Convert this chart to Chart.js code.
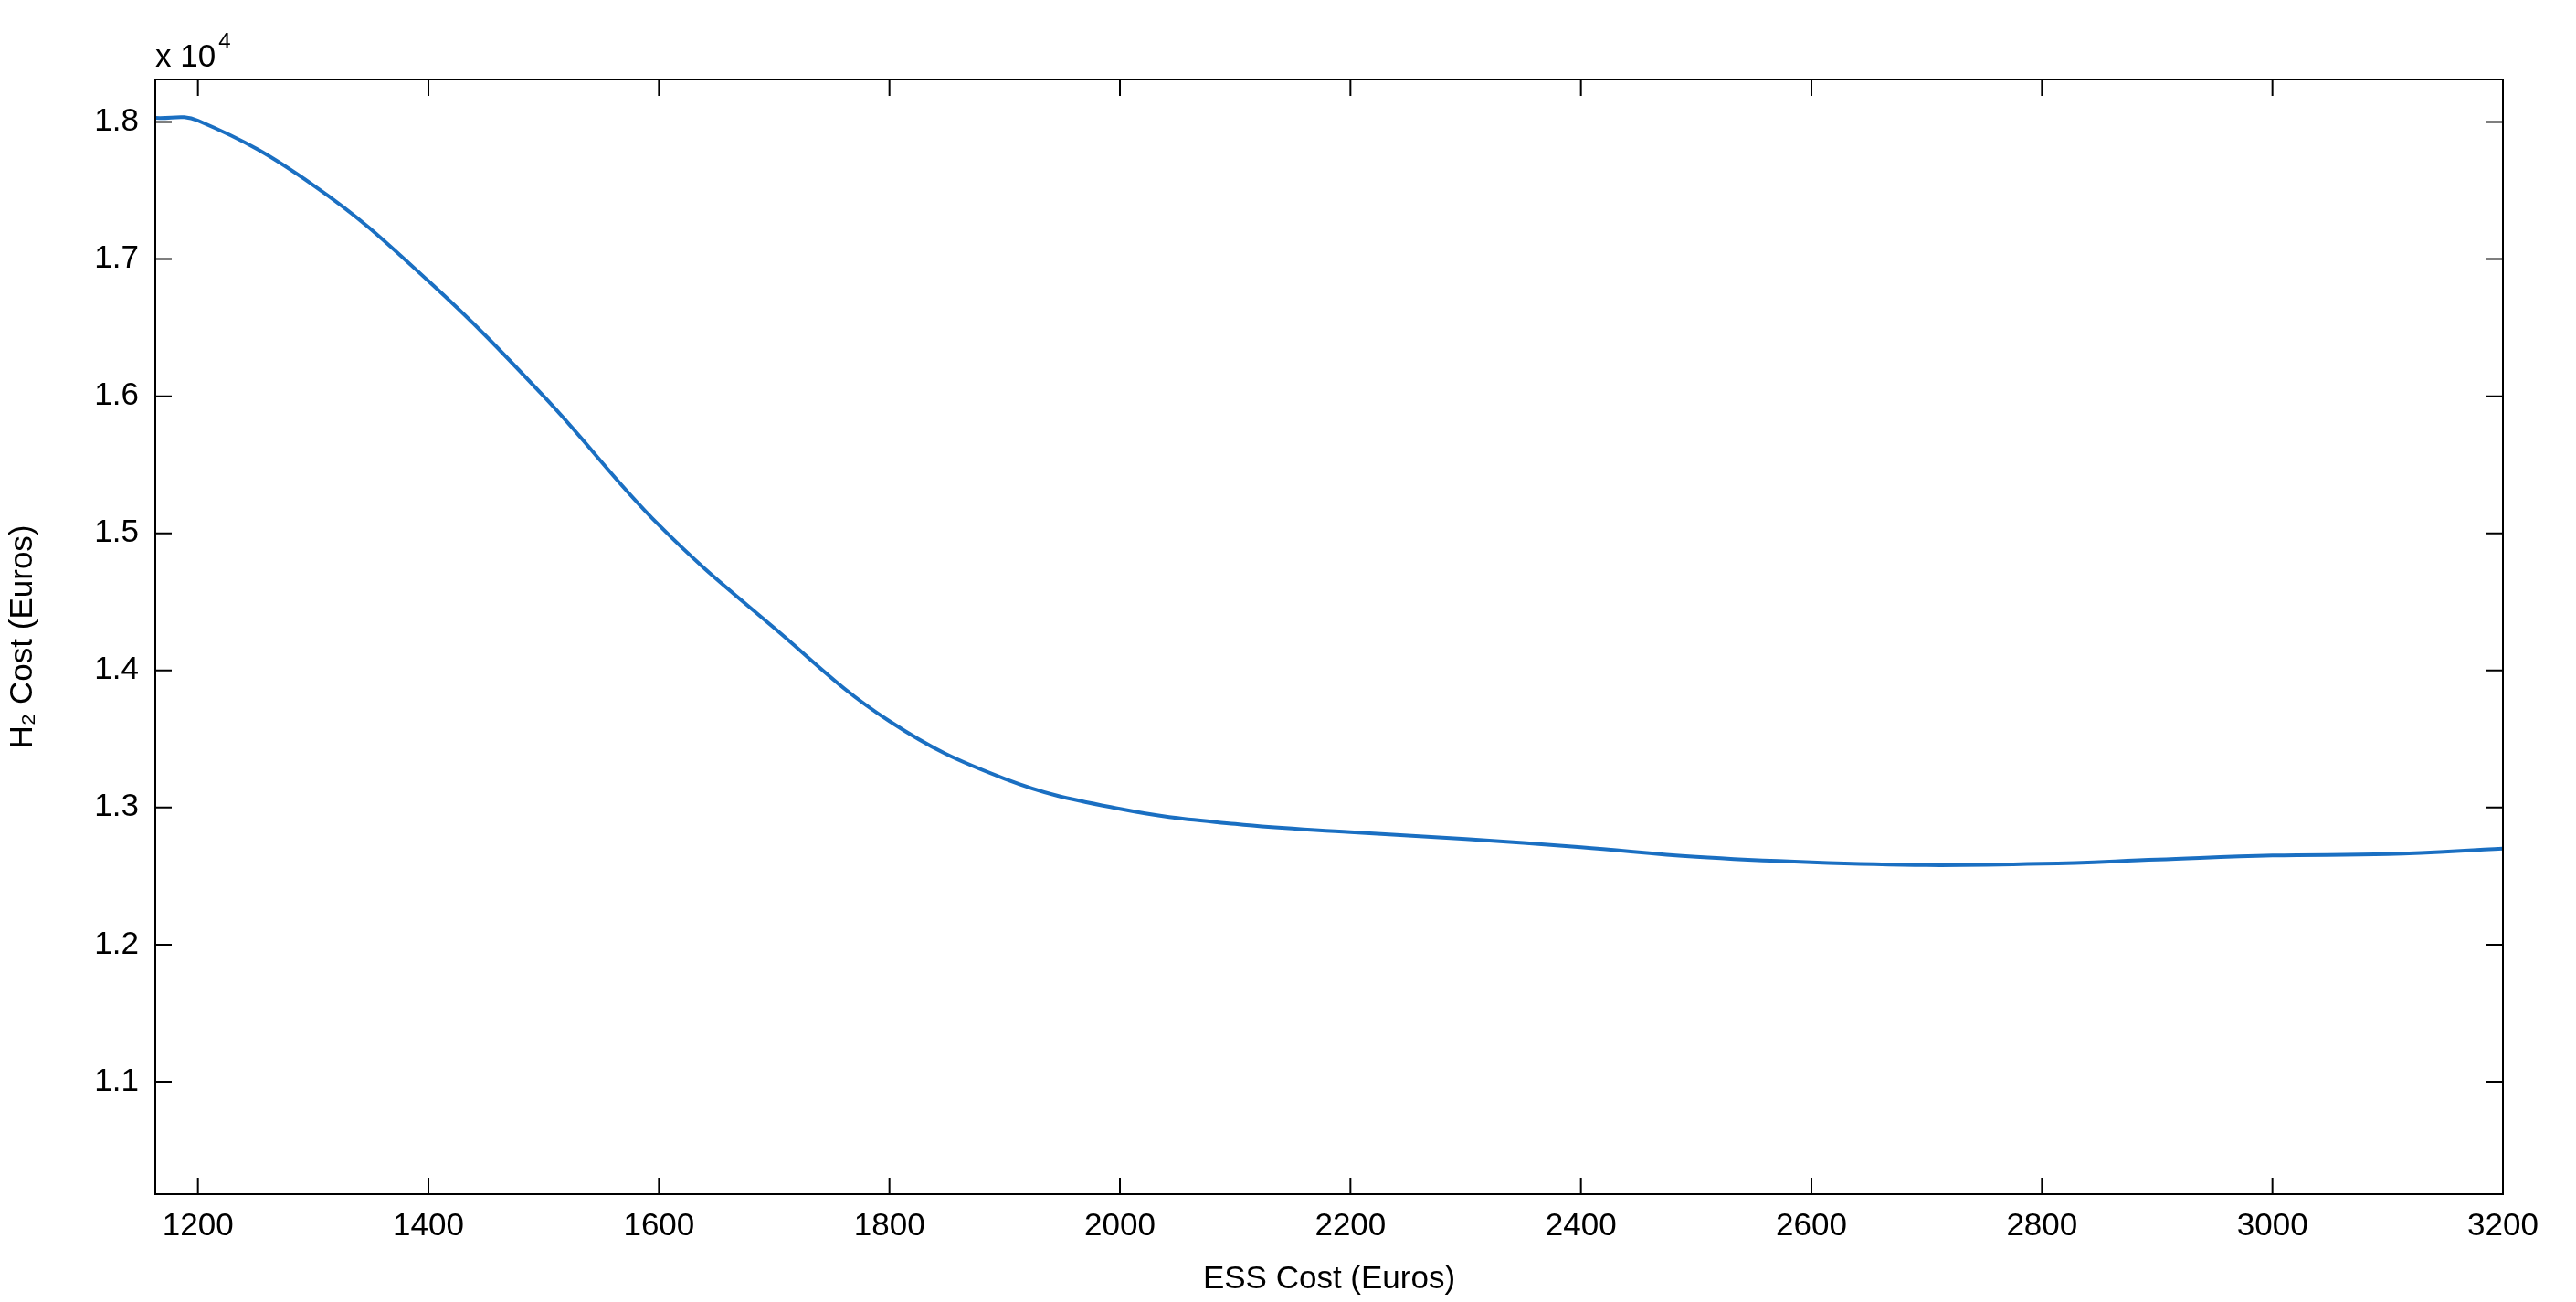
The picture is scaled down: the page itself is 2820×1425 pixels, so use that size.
<!DOCTYPE html>
<html><head><meta charset="utf-8">
<script src="https://cdn.jsdelivr.net/npm/chart.js@4/dist/chart.umd.min.js"></script>
<style>html,body{margin:0;padding:0;background:#fff}#w{width:2820px;height:1425px}</style>
</head><body><div id="w"><canvas id="c"></canvas></div>
<script>
const essCost = [1163,1200,1300,1400,1500,1600,1700,1800,1900,2000,2100,2200,2300,2400,2500,2600,2700,2800,2900,3000,3100,3200];
const h2Cost = [18030,18010,17540,16840,16000,15060,14310,13630,13210,12990,12880,12820,12770,12710,12640,12600,12580,12590,12620,12650,12660,12700];
const xTicks = [1200,1400,1600,1800,2000,2200,2400,2600,2800,3000,3200];
const yTicks = [11000,12000,13000,14000,15000,16000,17000,18000];
const F = '"Liberation Sans", Arial, sans-serif';
const boxPlugin = {
  id:'box',
  afterDraw(ch){
    const {ctx, chartArea:a, scales:{x,y}} = ch;
    ctx.save();
    ctx.strokeStyle='#000'; ctx.lineWidth=2;
    ctx.strokeRect(a.left,a.top,a.right-a.left,a.bottom-a.top);
    const L=18;
    ctx.beginPath();
    xTicks.forEach(v=>{const p=x.getPixelForValue(v);
      ctx.moveTo(p,a.bottom);ctx.lineTo(p,a.bottom-L);ctx.moveTo(p,a.top);ctx.lineTo(p,a.top+L);});
    yTicks.forEach(v=>{const p=y.getPixelForValue(v);
      ctx.moveTo(a.left,p);ctx.lineTo(a.left+L,p);ctx.moveTo(a.right,p);ctx.lineTo(a.right-L,p);});
    ctx.stroke();
    ctx.fillStyle='#000';
    ctx.font='35px '+F; ctx.textBaseline='alphabetic'; ctx.textAlign='left';
    ctx.fillText('x 10',a.left,a.top-14);
    const w=ctx.measureText('x 10').width;
    ctx.font='24px '+F;
    ctx.fillText('4',a.left+w+3,a.top-34);
    ctx.restore();
  }
};
new Chart(document.getElementById('c'),{
  type:'line',
  data:{datasets:[{data:essCost.map((v,i)=>({x:v,y:h2Cost[i]})),borderColor:'#1a6fc2',borderWidth:4,pointRadius:0,tension:0.4,fill:false}]},
  options:{responsive:true,maintainAspectRatio:false,animation:false,
    layout:{padding:{top:87,right:80,left:0,bottom:0}},
    plugins:{legend:{display:false},tooltip:{enabled:false}},
    scales:{
      x:{type:'linear',min:1163,max:3200,
        afterBuildTicks:s=>{s.ticks=xTicks.map(v=>({value:v}));},
        afterFit:s=>{s.height=118;},
        grid:{display:false},border:{display:false},
        ticks:{color:'#000',font:{family:F,size:35},maxRotation:0,padding:6,callback:v=>String(v)},
        title:{display:true,text:'ESS Cost (Euros)',color:'#000',font:{family:F,size:35},padding:{top:0}}},
      y:{type:'linear',min:10180,max:18310,
        afterBuildTicks:s=>{s.ticks=yTicks.map(v=>({value:v}));},
        afterFit:s=>{s.width=170;},
        grid:{display:false},border:{display:false},
        ticks:{color:'#000',font:{family:F,size:35},padding:10,callback:v=>(v/10000).toFixed(1)},
        title:{display:true,text:'H₂ Cost (Euros)',color:'#000',font:{family:F,size:35},padding:{bottom:4}}}
    }},
  plugins:[boxPlugin]
});
</script></body></html>
